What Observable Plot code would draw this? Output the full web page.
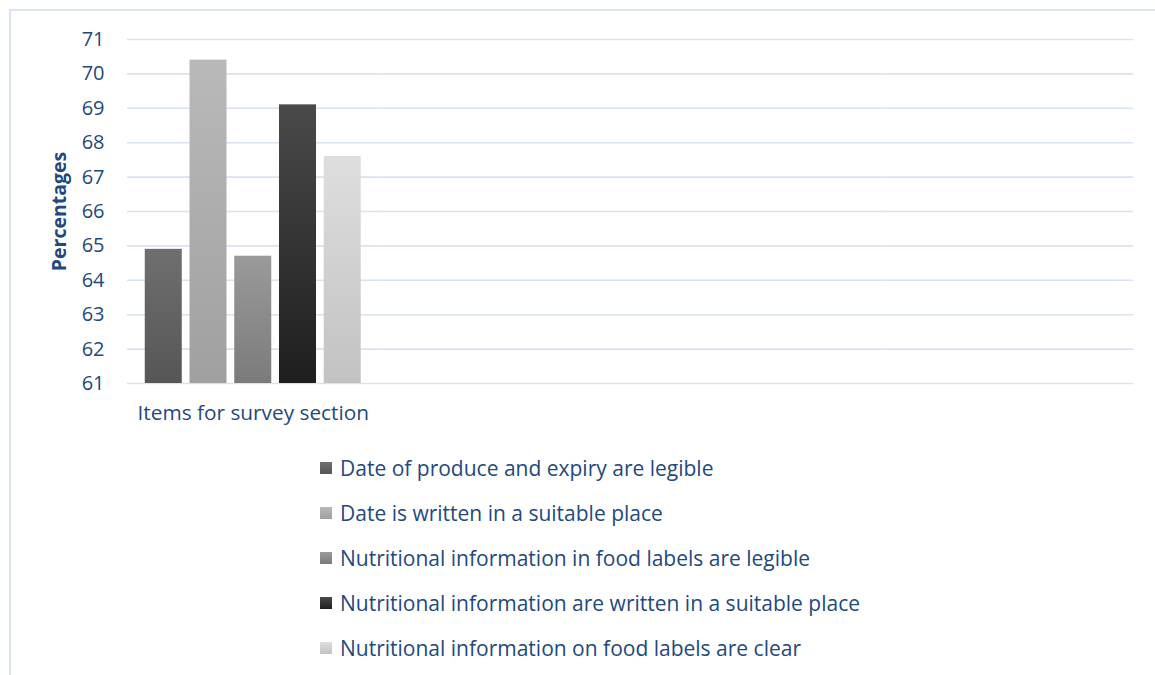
<!DOCTYPE html>
<html>
<head>
<meta charset="utf-8">
<script src="https://cdn.jsdelivr.net/npm/d3@7"></script>
<script src="https://cdn.jsdelivr.net/npm/@observablehq/plot@0.6"></script>
<style>
  html, body { margin: 0; padding: 0; background: #fff; }
  body { width: 1155px; height: 675px; position: relative; overflow: hidden; font-family: "Open Sans", sans-serif; }
  #frame { position: absolute; left: 9px; top: 9px; width: 1200px; height: 700px; border-left: 2px solid #dae3f3; border-top: 2px solid #dae3f3; box-sizing: border-box; }
  #chart { position: absolute; left: 0; top: 0; }
  #legend { position: absolute; left: 320px; top: 445px; }
  .row { display: flex; align-items: center; height: 45px; color: #22497d; font-size: 21px; }
  .sw { width: 12px; height: 12px; margin-right: 8px; flex: none; }
</style>
</head>
<body>
<div id="frame"></div>
<div id="chart"></div>
<div id="legend"></div>
<script>
const category = "Items for survey section";
const categories = [category, " ", "  ", "   "];
const series = [
  "Date of produce and expiry are legible",
  "Date is written in a suitable place",
  "Nutritional information in food labels are legible",
  "Nutritional information are written in a suitable place",
  "Nutritional information on food labels are clear"
];
const values = [64.9, 70.4, 64.7, 69.1, 67.6];
const yTicks = [61, 62, 63, 64, 65, 66, 67, 68, 69, 70, 71];
const gradTop = ["#6f6f6f", "#b9b9b9", "#9a9a9a", "#4a4a4a", "#dedede"];
const gradBottom = ["#565656", "#a0a0a0", "#7b7b7b", "#1e1e1e", "#c2c2c2"];

const data = series.map((s, i) => ({cat: category, series: s, value: values[i]}));
const textColor = "#22497d";

function gradientDefs() {
  const ns = "http://www.w3.org/2000/svg";
  const defs = document.createElementNS(ns, "defs");
  series.forEach((s, i) => {
    const g = document.createElementNS(ns, "linearGradient");
    g.setAttribute("id", "g" + i);
    g.setAttribute("x1", "0"); g.setAttribute("y1", "0");
    g.setAttribute("x2", "0"); g.setAttribute("y2", "1");
    const s1 = document.createElementNS(ns, "stop");
    s1.setAttribute("offset", "0"); s1.setAttribute("stop-color", gradTop[i]);
    const s2 = document.createElementNS(ns, "stop");
    s2.setAttribute("offset", "1"); s2.setAttribute("stop-color", gradBottom[i]);
    g.appendChild(s1); g.appendChild(s2);
    defs.appendChild(g);
  });
  return defs;
}

const plot = Plot.plot({
  width: 1155,
  height: 430,
  marginLeft: 127,
  marginRight: 22,
  marginTop: 39,
  marginBottom: 47,
  style: {fontFamily: "'Open Sans', sans-serif", fontSize: "20px", color: textColor, background: "transparent"},
  fx: {domain: categories, padding: 0, paddingOuter: 0, round: false, axis: "bottom", tickSize: 0, tickPadding: 22, label: null,
       tickFormat: d => d.trim() === "" ? "" : d},
  x: {domain: series, paddingInner: 0.173, paddingOuter: 0.397, round: false, axis: null},
  y: {domain: [61, 71], ticks: yTicks, tickSize: 0, tickPadding: 23, label: "Percentages",
      labelAnchor: "center", labelArrow: "none", labelOffset: 75, tickFormat: d => d},
  color: {domain: series, range: series.map((s, i) => `url(#g${i})`)},
  marks: [
    gradientDefs,
    Plot.ruleY(categories, {fx: d => d, y: 61, strokeOpacity: 0}),
    Plot.ruleY(yTicks, {stroke: "#d9e2f3", strokeWidth: 1.6}),
    Plot.barY(data, {fx: "cat", x: "series", y1: 61, y2: "value", fill: "series"})
  ]
});

plot.querySelectorAll("text").forEach(t => t.setAttribute("fill", textColor));
const yl = plot.querySelector('[aria-label="y-axis label"]');
if (yl) { yl.style.fontWeight = "bold"; yl.style.fontSize = "19.5px"; }
const fxa = plot.querySelector('[aria-label="fx-axis tick label"]');
if (fxa) { fxa.style.fontSize = "20.8px"; }
document.getElementById("chart").appendChild(plot);

const legend = document.getElementById("legend");
series.forEach((s, i) => {
  const row = document.createElement("div");
  row.className = "row";
  const sw = document.createElement("div");
  sw.className = "sw";
  sw.style.background = `linear-gradient(${gradTop[i]}, ${gradBottom[i]})`;
  const lab = document.createElement("span");
  lab.textContent = s;
  row.appendChild(sw); row.appendChild(lab);
  legend.appendChild(row);
});
</script>
</body>
</html>
